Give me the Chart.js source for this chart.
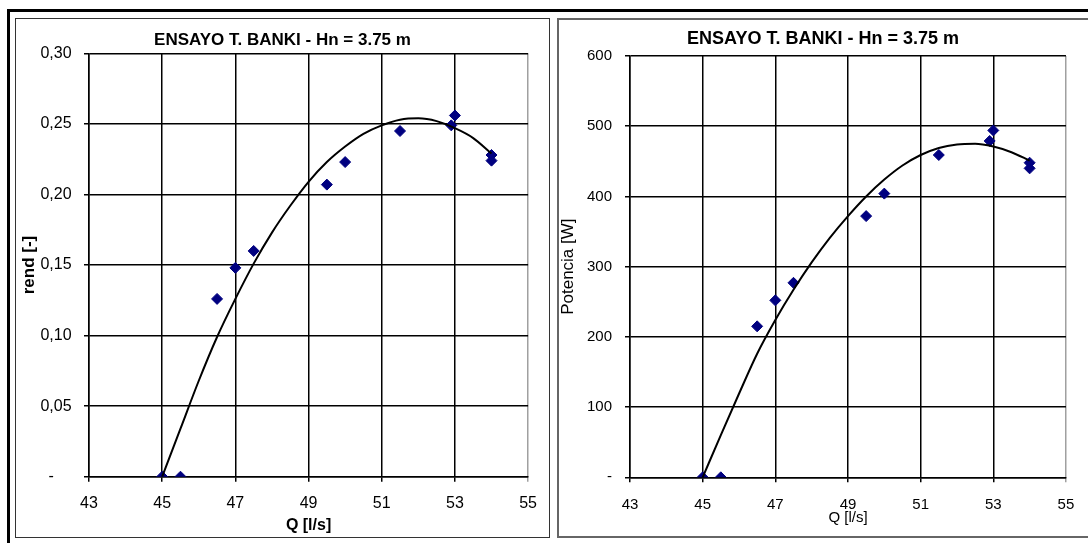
<!DOCTYPE html>
<html>
<head>
<meta charset="utf-8">
<script src="https://cdn.jsdelivr.net/npm/chart.js@4.4.1/dist/chart.umd.min.js"></script>
<style>
  body { margin: 0; background: #fff; width: 1088px; height: 543px; overflow: hidden; position: relative; }
  .frame { position: absolute; box-sizing: border-box; }
  canvas { position: absolute; }
</style>
</head>
<body>
<div class="frame" style="left:7px;top:9px;width:1081px;height:3px;background:#000"></div>
<div class="frame" style="left:7px;top:9px;width:3px;height:534px;background:#000"></div>
<div class="frame" style="left:15px;top:18px;width:535px;height:520px;border:1.5px solid #333"></div>
<div class="frame" style="left:557px;top:18px;width:540px;height:520px;border:2px solid #666"></div>
<canvas id="rendChart" width="533" height="518" style="left:16px;top:19px"></canvas>
<canvas id="potChart" width="530" height="518" style="left:558px;top:19px"></canvas>
<script>
// measured points (Q in l/s)
const caudal = [45, 45.5, 46.5, 47, 47.5, 49.5, 50, 51.5, 52.9, 53, 54, 54];
const rendimiento = [0, 0, 0.126, 0.148, 0.160, 0.207, 0.223, 0.245, 0.249, 0.256, 0.228, 0.224];
const potencia = [0, 0, 215, 252, 277, 372, 404, 459, 479, 494, 448, 440];

// trend line
const caudalTrend = [45, 45.5, 46, 46.5, 47, 47.5, 48, 48.5, 49, 49.5, 50, 50.5, 51, 51.5, 52, 52.5, 53, 53.5, 54];
const rendTrend = [0, 0.034, 0.068, 0.099, 0.126, 0.151, 0.173, 0.192, 0.209, 0.223, 0.234, 0.243, 0.249, 0.253, 0.254, 0.252, 0.247, 0.240, 0.229];
const potTrend = [0, 60, 119, 176, 224, 267, 306, 341, 372, 400, 424, 444, 459, 469, 474, 475, 471, 463, 451];

const xTicks = [43, 45, 47, 49, 51, 53, 55];
const rendTicks = [0, 0.05, 0.10, 0.15, 0.20, 0.25, 0.30];
const potTicks = [0, 100, 200, 300, 400, 500, 600];
const titulo = 'ENSAYO T. BANKI - Hn = 3.75 m';

Chart.defaults.font.family = "'Liberation Sans', Arial, sans-serif";
Chart.defaults.color = '#000';

function pairs(xs, ys) {
    return xs.map((x, i) => ({ x: x, y: ys[i] }));
}

function buildChart(id, opts) {
    const ctx = document.getElementById(id).getContext('2d');
    return new Chart(ctx, {
        type: 'scatter',
        data: {
            datasets: [{
                data: pairs(caudalTrend, opts.trend),
                showLine: true,
                borderColor: '#000',
                borderWidth: 2,
                pointRadius: 0,
                cubicInterpolationMode: 'monotone',
                order: 0
            }, {
                data: pairs(caudal, opts.values),
                pointStyle: 'rectRot',
                pointRadius: 5.5,
                backgroundColor: '#000080',
                borderColor: '#000080',
                borderWidth: 1,
                order: 1
            }]
        },
        options: {
            responsive: false,
            animation: false,
            devicePixelRatio: 1,
            layout: { autoPadding: false, padding: 0 },
            plugins: {
                legend: { display: false },
                tooltip: { enabled: false },
                title: {
                    display: true,
                    text: titulo,
                    font: { size: opts.titleSize, weight: 'bold' },
                    padding: opts.titlePad
                }
            },
            scales: {
                x: {
                    type: 'linear',
                    min: 43,
                    max: 55,
                    afterBuildTicks: s => { s.ticks = xTicks.map(v => ({ value: v })); },
                    afterFit: s => { s.height = opts.xHeight; },
                    grid: {
                        color: c => (c.tick && c.tick.value === 55) ? '#a0a0a0' : '#000',
                        lineWidth: 1.5,
                        tickLength: 5
                    },
                    border: { color: '#000', width: 1.5 },
                    ticks: { font: { size: opts.tickSize }, padding: opts.xTickPad, maxRotation: 0 },
                    title: {
                        display: true,
                        text: 'Q [l/s]',
                        font: { size: opts.xTitleSize, weight: opts.xTitleWeight },
                        padding: { top: 0, bottom: opts.xTitlePad }
                    }
                },
                y: {
                    min: 0,
                    max: opts.max,
                    afterBuildTicks: s => { s.ticks = opts.yTicks.map(v => ({ value: v })); },
                    afterFit: s => { s.width = opts.yWidth; },
                    grid: { color: '#000', lineWidth: 1.5, tickLength: 5 },
                    border: { color: '#000', width: 1.5 },
                    ticks: { font: { size: opts.tickSize }, padding: opts.yTickPad, callback: opts.fmt },
                    title: {
                        display: true,
                        text: opts.yTitle,
                        font: { size: opts.yTitleSize, weight: opts.yTitleWeight },
                        padding: { top: opts.yTitlePad, bottom: 0 }
                    }
                },
                // empty axis keeping the space on the right of the plot
                y2: {
                    position: 'right',
                    grid: { display: false },
                    border: { display: false },
                    ticks: { display: false },
                    afterFit: s => { s.width = opts.rightGap; }
                }
            }
        }
    });
}

buildChart('rendChart', {
    trend: rendTrend,
    values: rendimiento,
    max: 0.3,
    yTicks: rendTicks,
    fmt: v => v === 0 ? '-    ' : v.toFixed(2).replace('.', ','),
    titleSize: 17,
    titlePad: { top: 11, bottom: 3 },
    tickSize: 16,
    xHeight: 60.3,
    xTickPad: 12,
    xTitleSize: 16,
    xTitleWeight: 'bold',
    xTitlePad: 1.4,
    yWidth: 73,
    yTickPad: 12.4,
    yTitle: 'rend [-]',
    yTitleSize: 17,
    yTitleWeight: 'bold',
    yTitlePad: 2.8,
    rightGap: 14.5
});

buildChart('potChart', {
    trend: potTrend,
    values: potencia,
    max: 600,
    yTicks: potTicks,
    fmt: v => v === 0 ? '-' : String(v),
    titleSize: 18,
    titlePad: { top: 9.5, bottom: 5.9 },
    tickSize: 15,
    xHeight: 59.7,
    xTickPad: 13.7,
    xTitleSize: 15,
    xTitleWeight: 'normal',
    xTitlePad: 9.7,
    yWidth: 72,
    yTickPad: 13,
    yTitle: 'Potencia [W]',
    yTitleSize: 17,
    yTitleWeight: 'normal',
    yTitlePad: 0,
    rightGap: 11.3
});
</script>
</body>
</html>
